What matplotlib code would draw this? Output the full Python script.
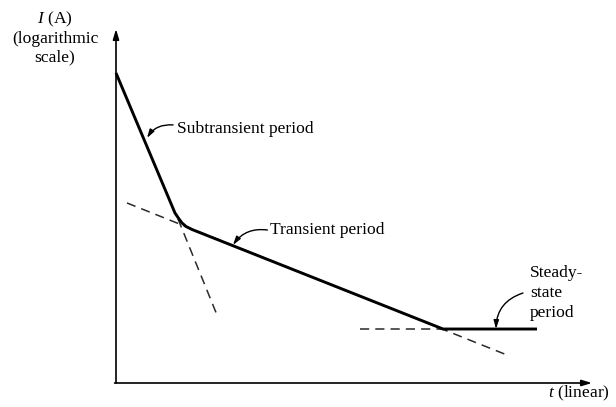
import matplotlib
matplotlib.use("Agg")
import matplotlib.pyplot as plt

plt.rcParams['font.family'] = ['Liberation Serif', 'DejaVu Serif']
plt.rcParams['mathtext.fontset'] = 'custom'
plt.rcParams['mathtext.it'] = 'Liberation Serif:italic'
plt.rcParams['mathtext.rm'] = 'Liberation Serif'

# Data (t in arbitrary linear units, v = log-current in arbitrary units)
curve_t = [0.0, 1.239, 1.324, 1.387, 1.471, 1.597, 6.870, 8.845]
curve_v = [8.757, 4.802, 4.633, 4.520, 4.421, 4.336, 1.525, 1.525]

sub_dash_t = [1.303, 2.122]
sub_dash_v = [4.633, 1.921]

tr_dash_t = [0.231, 8.214]
tr_dash_v = [5.085, 0.791]

ss_dash_t = [5.126, 6.870]
ss_dash_v = [1.525, 1.525]

T_MAX = 10.0
V_MAX = 10.0

fig = plt.figure(figsize=(6.16, 4.07), dpi=100)
ax = fig.add_axes([0, 0, 1, 1])
ax.set_xlim(-2.437, 10.504)
ax.set_ylim(-0.678, 10.819)
ax.axis('off')

# axes with arrows
ax.annotate('', xy=(0, V_MAX), xytext=(0, 0),
            arrowprops=dict(arrowstyle='-|>,head_length=0.6,head_width=0.18',
                            color='black', lw=1.2, shrinkA=0, shrinkB=0))
ax.annotate('', xy=(T_MAX, 0), xytext=(-0.03, 0),
            arrowprops=dict(arrowstyle='-|>,head_length=0.6,head_width=0.18',
                            color='black', lw=1.2, shrinkA=0, shrinkB=0))

# dashed asymptotes
ax.plot(sub_dash_t, sub_dash_v, color='#2a2a2a', lw=1.1, dashes=(6, 4))
ax.plot(tr_dash_t, tr_dash_v, color='#2a2a2a', lw=1.1, dashes=(6, 4))
ax.plot(ss_dash_t, ss_dash_v, color='#2a2a2a', lw=1.1, dashes=(6, 4))

# current curve
ax.plot(curve_t, curve_v, color='black', lw=2.1, solid_joinstyle='round',
        solid_capstyle='butt')

fs = 12.6
ax.text(-1.282, 9.75, '$I$ (A)\n(logarithmic\nscale)', ha='center', va='center',
        fontsize=fs, linespacing=1.18)
ax.text(9.076, -0.282, '$t$ (linear)', ha='left', va='center', fontsize=fs)

ax.text(1.282, 7.175, 'Subtransient period', ha='left', va='center', fontsize=fs)
ax.annotate('', xy=(0.651, 6.921), xytext=(1.20, 7.29),
            arrowprops=dict(arrowstyle='-|>,head_length=0.5,head_width=0.15',
                            color='black', lw=1.0, shrinkA=0, shrinkB=0,
                            connectionstyle='arc3,rad=0.3'))

ax.text(3.235, 4.322, 'Transient period', ha='left', va='center', fontsize=fs)
ax.annotate('', xy=(2.458, 3.898), xytext=(3.18, 4.322),
            arrowprops=dict(arrowstyle='-|>,head_length=0.5,head_width=0.15',
                            color='black', lw=1.0, shrinkA=0, shrinkB=0,
                            connectionstyle='arc3,rad=0.3'))

ax.text(8.697, 2.542, 'Steady-\nstate\nperiod', ha='left', va='center',
        multialignment='left', fontsize=fs, linespacing=1.3)
ax.annotate('', xy=(7.983, 1.525), xytext=(8.55, 2.542),
            arrowprops=dict(arrowstyle='-|>,head_length=0.5,head_width=0.15',
                            color='black', lw=1.0, shrinkA=0, shrinkB=0,
                            connectionstyle='arc3,rad=0.35'))

fig.savefig('out.png', dpi=100, facecolor='white')
